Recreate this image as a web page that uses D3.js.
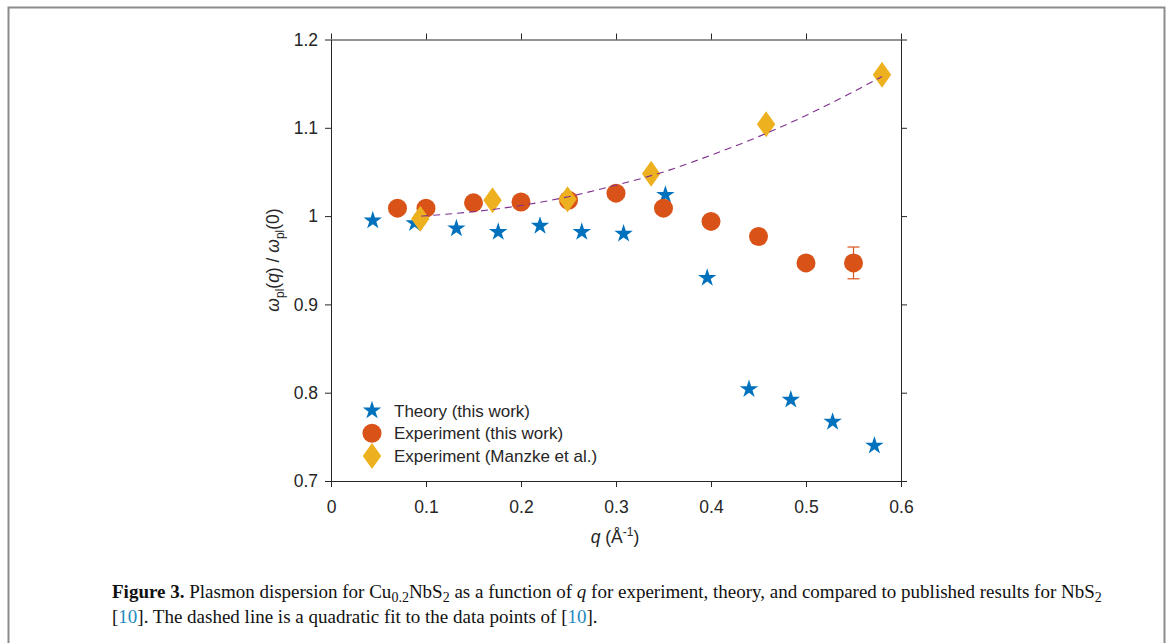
<!DOCTYPE html>
<html>
<head>
<meta charset="utf-8">
<script src="https://cdn.jsdelivr.net/npm/d3@7"></script>
<style>
  body { margin: 0; background: #fff; }
  svg { display: block; }
</style>
</head>
<body>
<script>
const width = 1169;
const height = 643;

// Theory (this work)
const theoryQ = [0.044, 0.088, 0.132, 0.176, 0.220, 0.264, 0.308, 0.352, 0.396, 0.440, 0.484, 0.528, 0.572];
const theoryW = [0.995, 0.992, 0.986, 0.982, 0.989, 0.982, 0.980, 1.024, 0.930, 0.804, 0.792, 0.767, 0.740];

// Experiment (this work)
const expQ = [0.07, 0.10, 0.15, 0.20, 0.25, 0.30, 0.35, 0.40, 0.45, 0.50, 0.55];
const expW = [1.009, 1.009, 1.015, 1.016, 1.018, 1.026, 1.009, 0.994, 0.977, 0.947, 0.947];
const expErr = [0, 0, 0, 0, 0, 0, 0, 0, 0, 0, 0.018];

// Experiment (Manzke et al.)
const manzkeQ = [0.094, 0.170, 0.249, 0.337, 0.458, 0.580];
const manzkeW = [0.997, 1.018, 1.019, 1.048, 1.104, 1.160];

// dashed quadratic fit
const fitQ = [0.095, 0.15, 0.20, 0.25, 0.30, 0.35, 0.40, 0.45, 0.50, 0.55, 0.58];
const fitW = [1.000, 1.005, 1.012, 1.022, 1.035, 1.050, 1.069, 1.090, 1.114, 1.141, 1.158];

const xTicks = [0, 0.1, 0.2, 0.3, 0.4, 0.5, 0.6];
const xTickLabels = ["0", "0.1", "0.2", "0.3", "0.4", "0.5", "0.6"];
const yTicks = [0.7, 0.8, 0.9, 1.0, 1.1, 1.2];
const yTickLabels = ["0.7", "0.8", "0.9", "1", "1.1", "1.2"];

const legendLabels = ["Theory (this work)", "Experiment (this work)", "Experiment (Manzke et al.)"];

const blue = "#0072BD", orange = "#D95319", yellow = "#EDB120", purple = "#7E2F8E";
const axisColor = "#262626";
const sans = "'Liberation Sans', Arial, Helvetica, sans-serif";
const serif = "'Liberation Serif', 'Times New Roman', serif";

const svg = d3.select(document.body).append("svg")
    .attr("width", width)
    .attr("height", height);

// figure frame
svg.append("rect")
    .attr("x", 8.5).attr("y", 7.5)
    .attr("width", 1156).attr("height", 660)
    .attr("fill", "none")
    .attr("stroke", "#8c8c8c")
    .attr("stroke-width", 2);

const x = d3.scaleLinear().domain([0, 0.6]).range([331, 901]);
const y = d3.scaleLinear().domain([0.7, 1.2]).range([481, 39.5]);

function styleAxis(g) {
    g.select(".domain").attr("stroke", axisColor);
    g.selectAll(".tick line").attr("stroke", axisColor);
    g.selectAll("text")
        .attr("fill", "#262626")
        .attr("font-family", sans)
        .attr("font-size", 17.5);
}

svg.append("g")
    .attr("transform", `translate(0,${y(0.7)})`)
    .call(d3.axisBottom(x).tickValues(xTicks).tickSizeInner(6).tickSizeOuter(0)
        .tickPadding(14).tickFormat((d, i) => xTickLabels[i]))
    .call(styleAxis);

svg.append("g")
    .attr("transform", `translate(0,${y(1.2)})`)
    .call(d3.axisTop(x).tickValues(xTicks).tickSizeInner(6).tickSizeOuter(0).tickFormat(""))
    .call(styleAxis);

svg.append("g")
    .attr("transform", `translate(${x(0)},0)`)
    .call(d3.axisLeft(y).tickValues(yTicks).tickSizeInner(6).tickSizeOuter(0)
        .tickPadding(7).tickFormat((d, i) => yTickLabels[i]))
    .call(styleAxis);

svg.append("g")
    .attr("transform", `translate(${x(0.6)},0)`)
    .call(d3.axisRight(y).tickValues(yTicks).tickSizeInner(6).tickSizeOuter(0).tickFormat(""))
    .call(styleAxis);

// axis labels
const xl = svg.append("text")
    .attr("x", 615).attr("y", 543)
    .attr("text-anchor", "middle")
    .attr("font-family", sans).attr("font-size", 17.5).attr("fill", "#262626");
xl.append("tspan").attr("font-style", "italic").text("q");
xl.append("tspan").text(" (Å");
xl.append("tspan").attr("font-size", 12).attr("dy", -7).text("-1");
xl.append("tspan").attr("dy", 7).text(")");

const yl = svg.append("text")
    .attr("transform", "translate(279,260) rotate(-90)")
    .attr("text-anchor", "middle")
    .attr("font-family", sans).attr("font-size", 17.5).attr("fill", "#262626");
yl.append("tspan").attr("font-style", "italic").text("ω");
yl.append("tspan").attr("font-size", 12).attr("dy", 5).text("pl");
yl.append("tspan").attr("dy", -5).text("(");
yl.append("tspan").attr("font-style", "italic").text("q");
yl.append("tspan").text(") / ");
yl.append("tspan").attr("font-style", "italic").text("ω");
yl.append("tspan").attr("font-size", 12).attr("dy", 5).text("pl");
yl.append("tspan").attr("dy", -5).text("(0)");

// markers
const star = d3.symbol().type(d3.symbolStar).size(105);
const diamond = "M0,-13L9.2,0L0,13L-9.2,0Z";

const theory = theoryQ.map((q, i) => ({ q, w: theoryW[i] }));
const exp = expQ.map((q, i) => ({ q, w: expW[i], e: expErr[i] }));
const manzke = manzkeQ.map((q, i) => ({ q, w: manzkeW[i] }));
const fit = fitQ.map((q, i) => ({ q, w: fitW[i] }));

svg.append("g")
    .selectAll("path")
    .data(theory)
    .join("path")
    .attr("d", star)
    .attr("fill", blue)
    .attr("transform", d => `translate(${x(d.q)},${y(d.w)})`);

const err = svg.append("g")
    .attr("stroke", orange)
    .attr("stroke-width", 1.2)
    .selectAll("g")
    .data(exp.filter(d => d.e > 0))
    .join("g");
err.append("line")
    .attr("x1", d => x(d.q)).attr("x2", d => x(d.q))
    .attr("y1", d => y(d.w - d.e)).attr("y2", d => y(d.w + d.e));
err.append("line")
    .attr("x1", d => x(d.q) - 6).attr("x2", d => x(d.q) + 6)
    .attr("y1", d => y(d.w - d.e)).attr("y2", d => y(d.w - d.e));
err.append("line")
    .attr("x1", d => x(d.q) - 6).attr("x2", d => x(d.q) + 6)
    .attr("y1", d => y(d.w + d.e)).attr("y2", d => y(d.w + d.e));

svg.append("g")
    .selectAll("circle")
    .data(exp)
    .join("circle")
    .attr("cx", d => x(d.q))
    .attr("cy", d => y(d.w))
    .attr("r", 9.5)
    .attr("fill", orange);

svg.append("g")
    .selectAll("path")
    .data(manzke)
    .join("path")
    .attr("d", diamond)
    .attr("fill", yellow)
    .attr("transform", d => `translate(${x(d.q)},${y(d.w)})`);

const line = d3.line()
    .x(d => x(d.q))
    .y(d => y(d.w))
    .curve(d3.curveMonotoneX);

svg.append("path")
    .datum(fit)
    .attr("d", line)
    .attr("fill", "none")
    .attr("stroke", purple)
    .attr("stroke-width", 1.1)
    .attr("stroke-dasharray", "7,5");

// legend
const legend = svg.append("g");
legendLabels.forEach((label, i) => {
    const ly = 410.5 + i * 22.8;
    const g = legend.append("g").attr("transform", `translate(372,${ly})`);
    if (i === 0) g.append("path").attr("d", star).attr("fill", blue);
    if (i === 1) g.append("circle").attr("r", 9.5).attr("fill", orange);
    if (i === 2) g.append("path").attr("d", diamond).attr("fill", yellow);
    legend.append("text")
        .attr("x", 394).attr("y", ly + 6)
        .attr("font-family", sans).attr("font-size", 17).attr("fill", "#262626")
        .text(label);
});

// caption
const cap1 = svg.append("text")
    .attr("x", 112).attr("y", 598)
    .attr("font-family", serif).attr("font-size", 19).attr("fill", "#111");
cap1.append("tspan").attr("font-weight", "bold").text("Figure 3.");
cap1.append("tspan").text(" Plasmon dispersion for Cu");
cap1.append("tspan").attr("font-size", 14).attr("dy", 4).text("0.2");
cap1.append("tspan").attr("dy", -4).text("NbS");
cap1.append("tspan").attr("font-size", 14).attr("dy", 4).text("2");
cap1.append("tspan").attr("dy", -4).text(" as a function of ");
cap1.append("tspan").attr("font-style", "italic").text("q");
cap1.append("tspan").text(" for experiment, theory, and compared to published results for NbS");
cap1.append("tspan").attr("font-size", 14).attr("dy", 4).text("2");

const cap2 = svg.append("text")
    .attr("x", 112).attr("y", 623)
    .attr("font-family", serif).attr("font-size", 19).attr("fill", "#111");
cap2.append("tspan").text("[");
cap2.append("tspan").attr("fill", "#1f8ac0").text("10");
cap2.append("tspan").text("]. The dashed line is a quadratic fit to the data points of [");
cap2.append("tspan").attr("fill", "#1f8ac0").text("10");
cap2.append("tspan").text("].");
</script>
</body>
</html>
